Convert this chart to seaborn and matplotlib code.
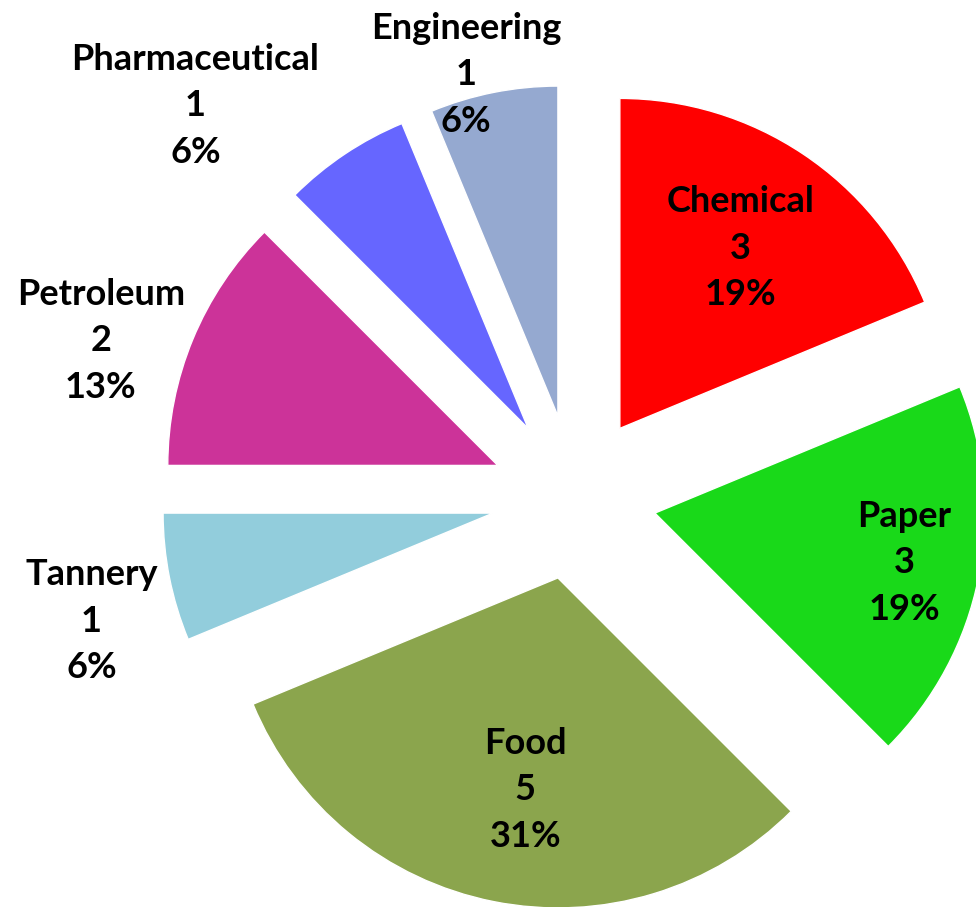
import matplotlib
matplotlib.use("Agg")
import numpy as np
import matplotlib.pyplot as plt
import seaborn as sns

# industries going clockwise from 12 o'clock
industries = ["Chemical", "Paper", "Food", "Tannery", "Petroleum", "Pharmaceutical", "Engineering"]
counts = [3, 3, 5, 1, 2, 1, 1]
colors = ["#FF0000", "#19D919", "#8BA54D", "#92CDDC", "#CC3399", "#6666FF", "#95A9D0"]

# label placement: angle shift from wedge middle (deg) and distance in radii
label_shift = [0, 0, 1.8, 3.2, 4.2, 10.3, 3.1]
label_dist = [0.906, 1.02, 0.90, 1.51, 1.51, 1.65, 1.32]

sns.set_style("white")
plt.rcParams["font.family"] = ["Lato", "DejaVu Sans"]

fig = plt.figure(figsize=(9.76, 9.07), dpi=100)
ax = fig.add_axes([0, 0, 1, 1])

R = 330
cx, cy = 574, 410
wedges, _ = ax.pie(counts, colors=colors, startangle=90, counterclock=False,
                   explode=[0.25 * R] * len(counts), radius=R, center=(cx, cy))

total = sum(counts)
for w, name, n, sh, d in zip(wedges, industries, counts, label_shift, label_dist):
    mid = np.deg2rad((w.theta1 + w.theta2) / 2 + sh)
    x = cx + d * R * np.cos(mid)
    y = cy + d * R * np.sin(mid)
    pct = int(n * 100 / total + 0.5)  # excel rounds half up
    ax.text(x, y, f"{name}\n{n}\n{pct}%", ha="center", va="center",
            fontsize=26, fontweight="bold", linespacing=1.5, color="black")

ax.set_xlim(0, 976)
ax.set_ylim(0, 907)
ax.set_aspect("equal")
ax.axis("off")

fig.savefig("out.png", dpi=100)
